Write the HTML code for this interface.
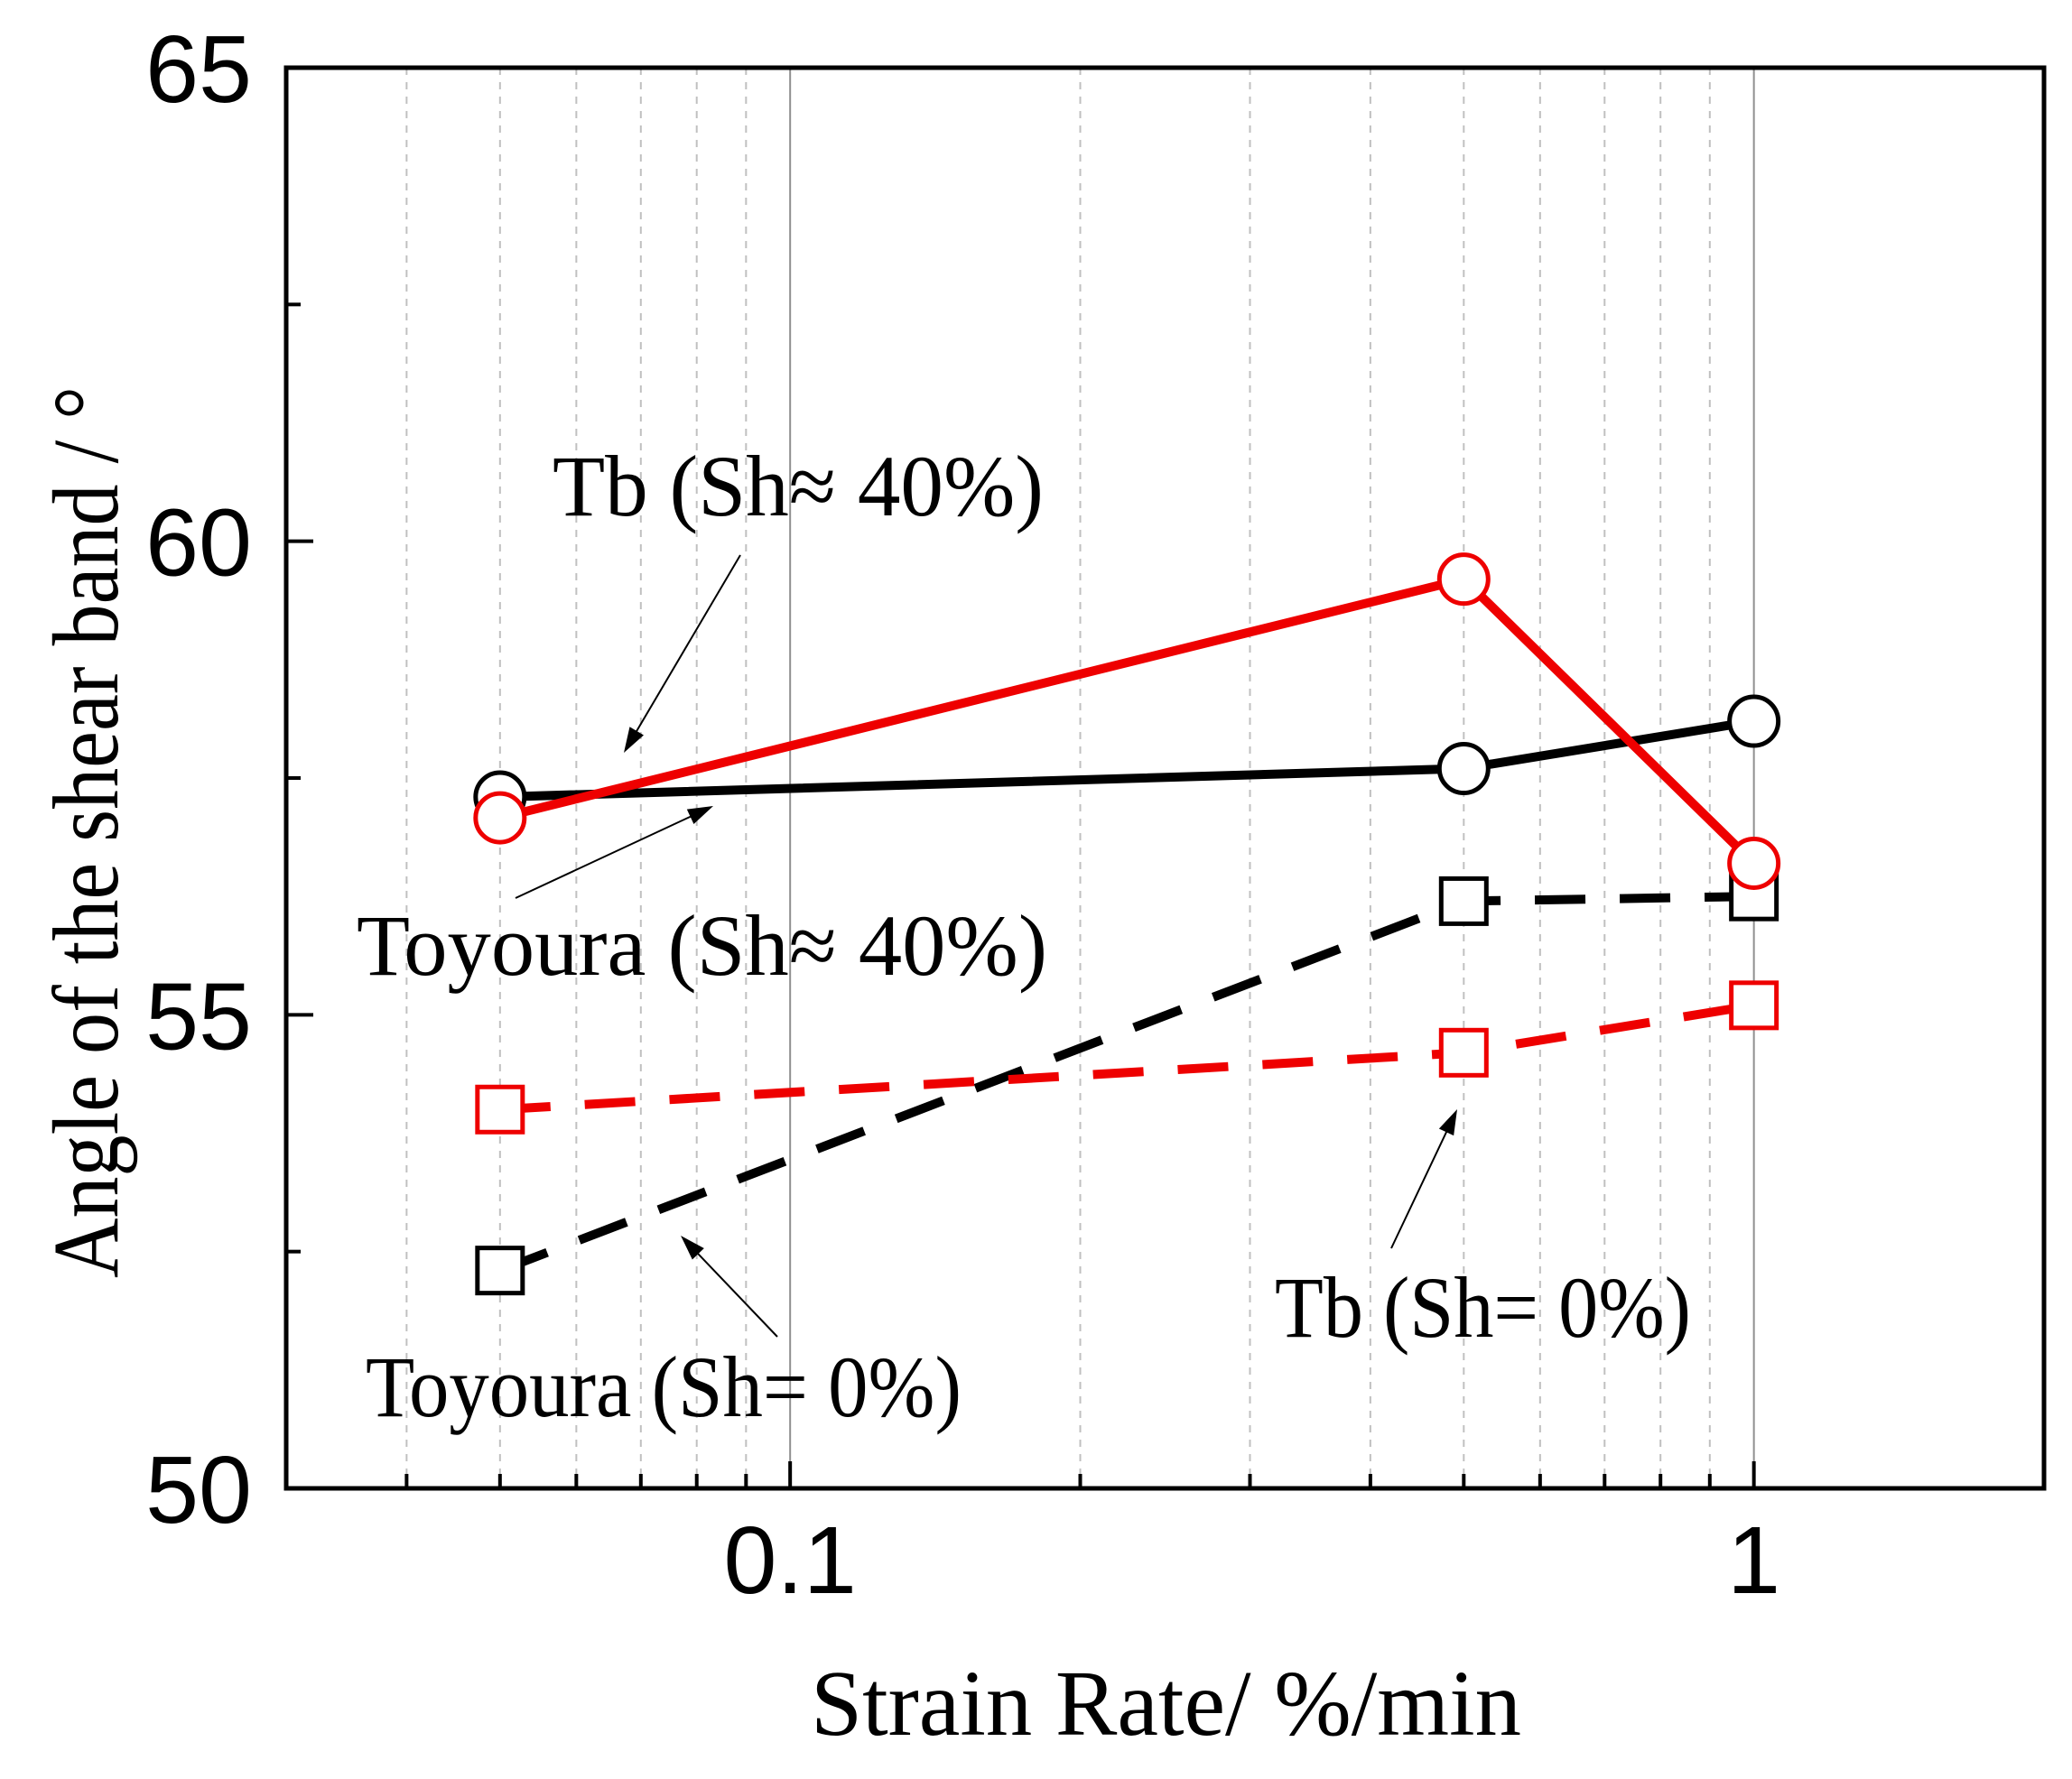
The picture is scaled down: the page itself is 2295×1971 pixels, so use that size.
<!DOCTYPE html>
<html><head><meta charset="utf-8"><style>
html,body{margin:0;padding:0;background:#fff}
svg{display:block}
</style></head><body>
<svg id="chart" width="2295" height="1971" viewBox="0 0 2295 1971" xmlns="http://www.w3.org/2000/svg">
<g id="grid"></g>
<g id="series"></g>
<g id="axes"></g>
<g id="annot" font-family="'Liberation Serif', serif" font-size="96" fill="#000"></g>
</svg>
<script>
const xCats = [0.05, 0.5, 1];
const toyoura40 = [57.3, 57.6, 58.1];
const tb40 = [57.08, 59.6, 56.6];
const toyoura0 = [52.3, 56.2, 56.25];
const tb0 = [54.0, 54.6, 55.1];
const yTicks = [50, 55, 60, 65];
const xTickLabels = ["0.1", "1"];
const xTickVals = [0.1, 1];

const L=317,R=2264,T=75,B=1649;
const xMin=0.03,xMax=2,yMin=50,yMax=65;
const NS="http://www.w3.org/2000/svg";
function X(v){return L+(Math.log10(v)-Math.log10(xMin))/(Math.log10(xMax)-Math.log10(xMin))*(R-L);}
function Y(v){return B-(v-yMin)/(yMax-yMin)*(B-T);}
function mk(tag,attrs,parent){const e=document.createElementNS(NS,tag);for(const k in attrs)e.setAttribute(k,attrs[k]);parent.appendChild(e);return e;}
const grid=document.getElementById('grid'),axes=document.getElementById('axes'),ser=document.getElementById('series'),ann=document.getElementById('annot');

const minors=[0.04,0.05,0.06,0.07,0.08,0.09,0.2,0.3,0.4,0.5,0.6,0.7,0.8,0.9,2];
minors.forEach(v=>{const l=mk('line',{x1:X(v),x2:X(v),y1:T,y2:B,stroke:'#c0c0c0','stroke-width':2,'stroke-dasharray':'8 8'},grid);


const t=mk('line',{x1:X(v),x2:X(v),y1:B,y2:B-16,stroke:'#000','stroke-width':4},axes);

});
xTickVals.forEach((v,i)=>{const l=mk('line',{x1:X(v),x2:X(v),y1:T,y2:B,stroke:'#909090','stroke-width':2},grid);


const t=mk('line',{x1:X(v),x2:X(v),y1:B,y2:B-30,stroke:'#000','stroke-width':4},axes);


const tx=mk('text',{x:X(v),y:1765,'text-anchor':'middle','font-family':"'Liberation Sans', sans-serif",'font-size':106},axes);
tx.textContent=xTickLabels[i];

});

for(let v=52.5;v<65;v+=5){const t=mk('line',{x1:L,x2:L+16,y1:Y(v),y2:Y(v),stroke:'#000','stroke-width':4},axes);

}
yTicks.forEach(v=>{const t=mk('line',{x1:L,x2:L+30,y1:Y(v),y2:Y(v),stroke:'#000','stroke-width':4},axes);


const tx=mk('text',{x:279,y:Y(v)+38,'text-anchor':'end','font-family':"'Liberation Sans', sans-serif",'font-size':106},axes);
tx.textContent=String(v);

});

const frame=mk('rect',{x:L,y:T,width:R-L,height:B-T,fill:'none',stroke:'#000','stroke-width':5},axes);


const xt=mk('text',{x:898,y:1922,textLength:787,lengthAdjust:'spacingAndGlyphs','font-family':"'Liberation Serif', serif",'font-size':104},axes);
xt.textContent='Strain Rate/ %/min';


const yt=mk('text',{x:0,y:0,'text-anchor':'middle',textLength:988,lengthAdjust:'spacingAndGlyphs','font-family':"'Liberation Serif', serif",'font-size':104,transform:'translate(130 922) rotate(-90)'},axes);
yt.textContent='Angle of the shear band / °';



function series(vals,color,dash,marker,name){
 const g=mk('g',{},ser);
 
 
 const pts=xCats.map((x,i)=>X(x)+','+Y(vals[i])).join(' ');
 const pl=mk('polyline',{points:pts,fill:'none',stroke:color,'stroke-width':10,'stroke-dasharray':dash||'none'},g);
 
 
 xCats.forEach((x,i)=>{let m;
  if(marker==='c') m=mk('circle',{cx:X(x),cy:Y(vals[i]),r:27,fill:'#fff',stroke:color,'stroke-width':5},g);
  else m=mk('rect',{x:X(x)-25,y:Y(vals[i])-25,width:50,height:50,fill:'#fff',stroke:color,'stroke-width':5},g);
  
  });
}
series(toyoura0,'#000','56 38','s','toyoura-sh0');
series(tb0,'#ee0000','56 38','s','tb-sh0');
series(toyoura40,'#000',null,'c','toyoura-sh40');
series(tb40,'#ee0000',null,'c','tb-sh40');

const labels=[['Tb (Sh≈ 40%)',612,571,544],['Toyoura (Sh≈ 40%)',395,1080,765],['Toyoura (Sh= 0%)',405,1569,660],['Tb (Sh= 0%)',1412,1481,461]];
labels.forEach(a=>{const t=mk('text',{x:a[1],y:a[2],textLength:a[3],lengthAdjust:'spacingAndGlyphs'},ann);t.textContent=a[0];

});
const arrows=[[820,615,691,834],[571,995,790,893],[861,1481,754,1369],[1541,1383,1614,1229]];
arrows.forEach(a=>{const dx=a[2]-a[0],dy=a[3]-a[1],len=Math.hypot(dx,dy),ux=dx/len,uy=dy/len;
 const l=mk('line',{x1:a[0],y1:a[1],x2:a[2]-ux*20,y2:a[3]-uy*20,stroke:'#000','stroke-width':2},ann);
 
 
 const bx=a[2]-ux*28,by=a[3]-uy*28,px=-uy*9,py=ux*9;
 const h=mk('polygon',{points:`${a[2]},${a[3]} ${bx+px},${by+py} ${bx-px},${by-py}`,fill:'#000'},ann);
 
 });
</script>
</body></html>
